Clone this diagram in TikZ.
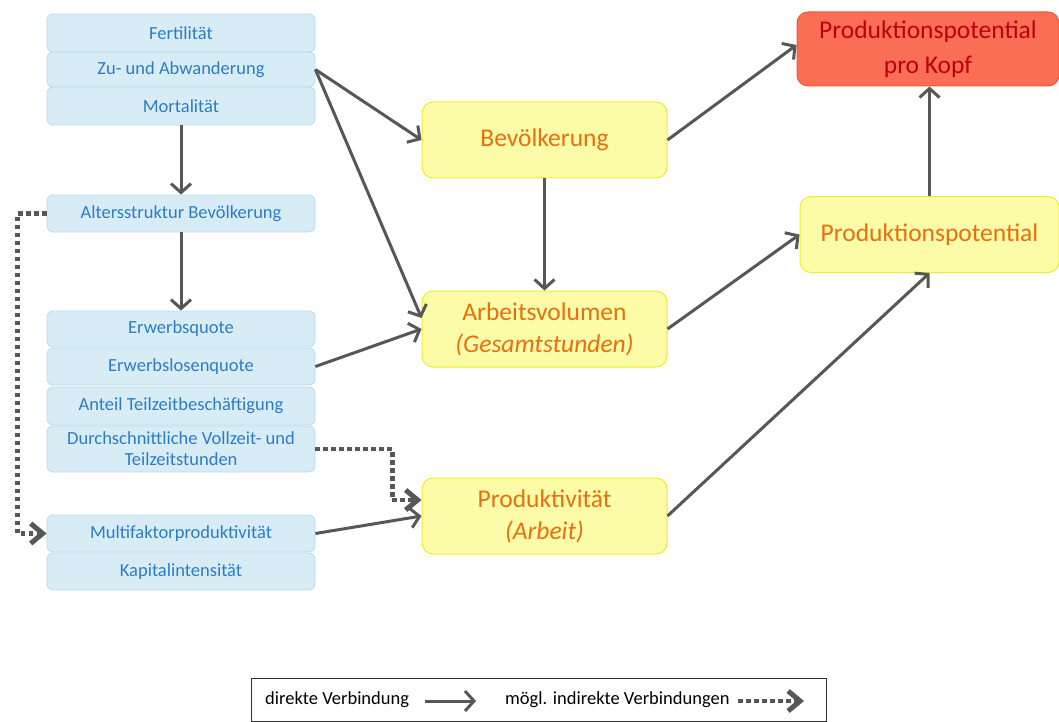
\documentclass[tikz,border=0pt]{standalone}
\usepackage{fontspec}
\setmainfont{Carlito}
\usetikzlibrary{arrows.meta}
\definecolor{bluefill}{HTML}{D8ECF6}
\definecolor{blueline}{HTML}{BADCEE}
\definecolor{bluetext}{HTML}{2C7CC6}
\definecolor{yelfill}{HTML}{FBFBA8}
\definecolor{yelline}{HTML}{EEEE30}
\definecolor{orangetext}{HTML}{E8700E}
\definecolor{redfill}{HTML}{F96E55}
\definecolor{redline}{HTML}{EE5A30}
\definecolor{redtext}{HTML}{BE0010}
\definecolor{arrowgray}{HTML}{575757}
\tikzset{
  bluebox/.style={draw=blueline, line width=0.8pt, fill=bluefill, rounded corners=6pt,
    minimum width=268pt, minimum height=#1, inner sep=0pt, text=bluetext,
    font=\fontsize{18.5}{21}\selectfont, align=center},
  bluebox/.default=37pt,
  yelbox/.style={draw=yelline, line width=1pt, fill=yelfill, rounded corners=11pt,
    minimum width=245pt, minimum height=76pt, inner sep=0pt, text=orangetext,
    font=\fontsize{25.5}{32}\selectfont, align=center},
  redbox/.style={draw=redline, line width=1pt, fill=redfill, rounded corners=11pt,
    minimum width=262pt, minimum height=74pt, inner sep=0pt, text=redtext,
    font=\fontsize{25.5}{35}\selectfont, align=center},
  conn/.style={draw=arrowgray, line width=3pt,
    -{Straight Barb[length=9pt,width=20pt]}},
  indconn/.style={draw=arrowgray, line width=4.5pt, dash pattern=on 4.5pt off 3.5pt,
    -{Straight Barb[length=12pt,width=20pt,line width=5pt]}},
  legtext/.style={inner sep=0pt, anchor=west, font=\fontsize{18.5}{21}\selectfont, text=black}
}
\begin{document}
\begin{tikzpicture}[x=1pt,y=-1pt]
\useasboundingbox (0,0) rectangle (1059,722);
% blue boxes
\node[bluebox=38pt] (fert) at (181,33) {Fertilität};
\node[bluebox=35pt] (zu) at (181,69.5) {Zu- und Abwanderung};
\node[bluebox=38pt] (mort) at (181,106) {Mortalität};
\node[bluebox=37pt] (alt) at (181,213.5) {Altersstruktur Bevölkerung};
\node[bluebox=36pt] (erwq) at (181,329) {Erwerbsquote};
\node[bluebox=37pt] (erwl) at (181,366.5) {Erwerbslosenquote};
\node[bluebox=38pt] (ant) at (181,406) {Anteil Teilzeitbeschäftigung};
\node[bluebox=46pt] (durch) at (181,449) {Durchschnittliche Vollzeit- und\\Teilzeitstunden};
\node[bluebox=37pt] (multi) at (181,533.5) {Multifaktorproduktivität};
\node[bluebox=37pt] (kap) at (181,571.5) {Kapitalintensität};
% yellow boxes
\node[yelbox] (bev) at (544.5,140) {Bevölkerung};
\node[yelbox] (arb) at (544.5,329) {Arbeitsvolumen\\\textit{(Gesamtstunden)}};
\node[yelbox] (prod) at (544.5,516) {Produktivität\\\textit{(Arbeit)}};
\node[yelbox, minimum width=259pt] (pp) at (929.5,234.5) {Produktionspotential};
\node[redbox] (ppk) at (928,49) {Produktionspotential\\pro Kopf};
% connectors
\draw[conn] (mort.south) -- (alt.north);
\draw[conn] (alt.south) -- (erwq.north);
\draw[conn] (zu.east) -- (bev.west);
\draw[conn] (zu.east) -- ([yshift=11pt]arb.west);
\draw[conn] (erwl.east) -- (arb.west);
\draw[conn] (multi.east) -- (prod.west);
\draw[indconn] (durch.east) -- ++(77,0) |- ([yshift=16pt]prod.west);
\draw[indconn] (alt.west) -- ++(-29,0) |- (multi.west);
\draw[conn] (bev.south) -- (arb.north);
\draw[conn] (bev.east) -- ([yshift=4pt]ppk.west);
\draw[conn] (arb.east) -- (pp.west);
\draw[conn] (prod.east) -- (pp.south);
\draw[conn] (pp.north) -- (pp.north |- ppk.south);
% legend
\node[draw=black!80, line width=1pt, minimum width=575pt, minimum height=43pt, inner sep=0pt] (legend) at (538.5,699.5) {};
\node[legtext] (l1) at (265,700) {direkte Verbindung};
\coordinate (la1) at (425,701);
\coordinate (la2) at (476,701);
\draw[conn] (la1) -- (la2);
\node[legtext] (l2) at (505,700) {mögl. indirekte Verbindungen};
\coordinate (lb1) at (738,701);
\coordinate (lb2) at (804,701);
\draw[indconn] (lb1) -- (lb2);
\end{tikzpicture}
\end{document}
